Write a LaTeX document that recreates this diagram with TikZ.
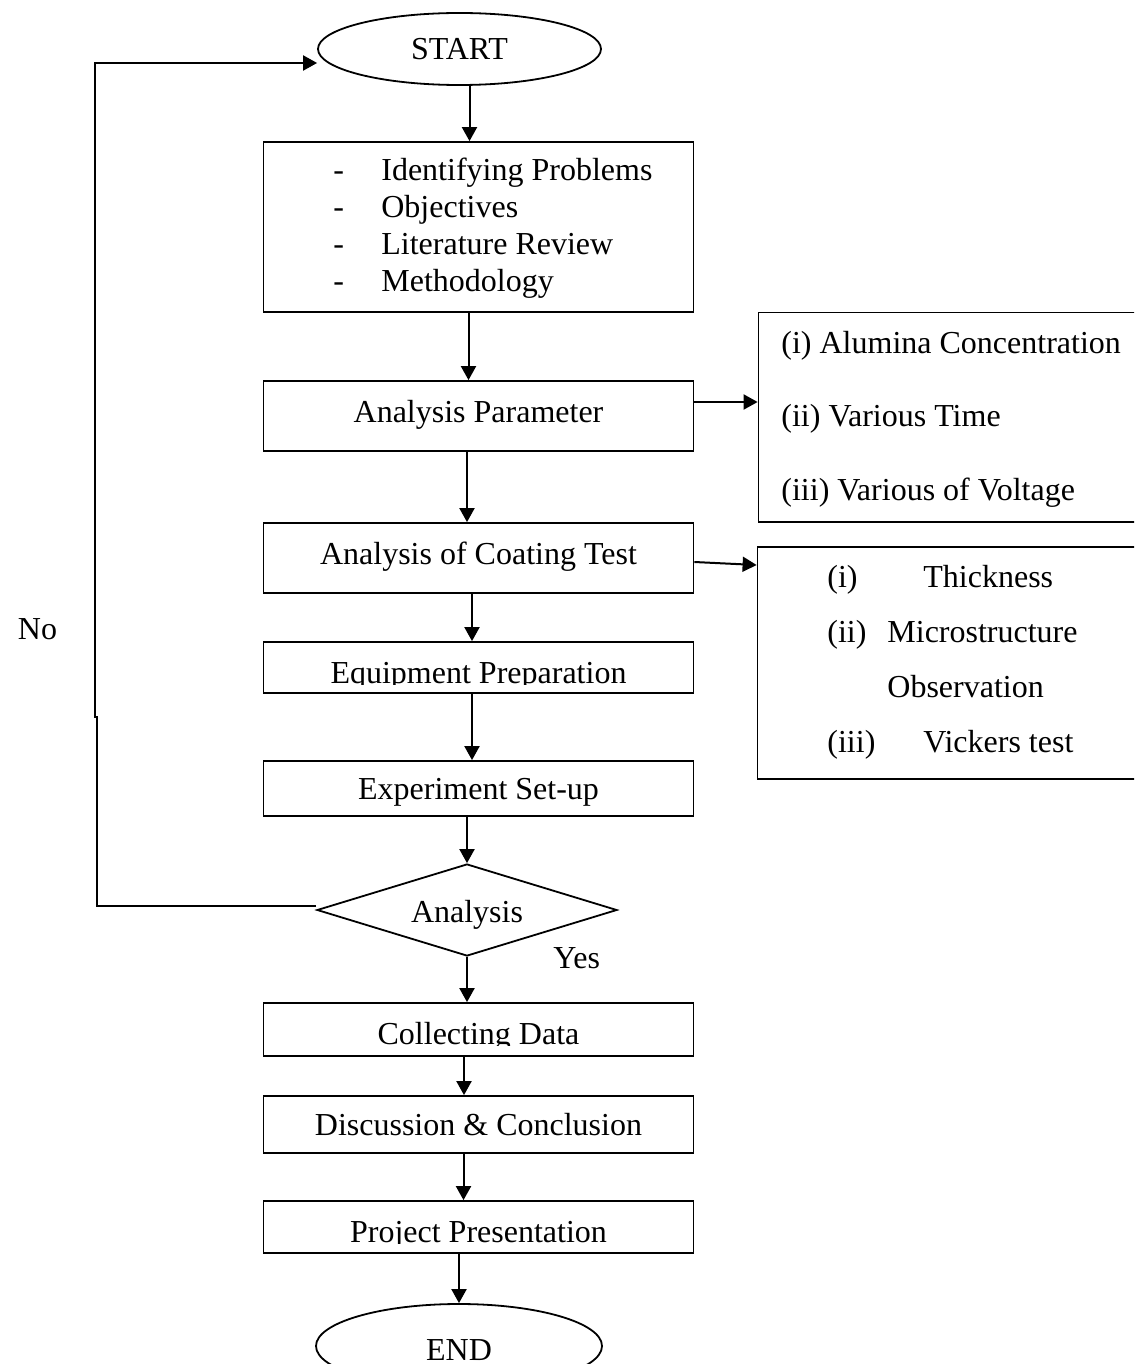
\documentclass[tikz,border=0pt]{standalone}
\usepackage{fontspec}
\setmainfont{Liberation Serif}
\usetikzlibrary{arrows.meta,shapes.geometric}
\begin{document}
\begin{tikzpicture}[x=0.5pt,y=-0.5pt,
  font=\fontsize{16}{18.5}\selectfont,
  flowbox/.style={draw, line width=0.9pt, rectangle, inner sep=0pt, minimum width=215pt, text height=11pt, text depth=0pt},
  sidebox/.style={draw, line width=0.9pt, rectangle, inner sep=0pt, minimum width=196pt},
  term/.style={draw, line width=0.9pt, ellipse, inner sep=0pt, text height=11pt, text depth=0pt},
  decide/.style={draw, line width=0.9pt, diamond, aspect=3.26, inner sep=0pt, minimum width=150pt, minimum height=46pt, text height=12pt, text depth=0pt},
  arr/.style={line width=1pt, line join=miter, -{Triangle[length=7pt,width=7.5pt]}},
  txt/.style={inner sep=0pt, anchor=base west},
  ctxt/.style={inner sep=0pt, anchor=base},
]
\clip (0,0) rectangle (1134,1364);

% main column
\node[term, minimum width=141.5pt, minimum height=36pt] (start) at (459.5,49) {START};
\node[flowbox, minimum height=85pt] (b1) at (478.5,227) {};
\node[txt] (list) at (333,181) {\begin{tabular}[t]{@{}p{24pt}@{}l@{}}-&Identifying Problems\\-&Objectives\\-&Literature Review\\-&Methodology\end{tabular}};
\node[flowbox, minimum height=35pt, text height=6pt] (b2) at (478.5,416) {Analysis Parameter};
\node[flowbox, minimum height=35pt, text height=6pt] (b3) at (478.5,558) {Analysis of Coating Test};
\node[flowbox, minimum height=25.5pt] (b4) at (478.5,667.5) {};
\begin{scope}
  \clip (263,642) rectangle (694,684);
  \node[ctxt] (t4) at (478.5,683) {Equipment Preparation};
\end{scope}
\node[flowbox, minimum height=27.5pt] (b5) at (478.5,788.5) {Experiment Set-up};
\node[decide] (dia) at (467,910) {Analysis};
\node[flowbox, minimum height=26.5pt] (b6) at (478.5,1029.5) {};
\begin{scope}
  \clip (263,1003) rectangle (694,1045);
  \node[ctxt] (t6) at (478.5,1044) {Collecting Data};
\end{scope}
\node[flowbox, minimum height=28.5pt] (b7) at (478.5,1124.5) {Discussion \& Conclusion};
\node[flowbox, minimum height=26pt] (b8) at (478.5,1227) {};
\begin{scope}
  \clip (263,1201) rectangle (694,1243);
  \node[ctxt] (t8) at (478.5,1242) {Project Presentation};
\end{scope}
\node[term, minimum width=143pt, minimum height=42pt, text height=14pt] (end) at (459,1346) {END};

% side boxes
\node[sidebox, minimum height=104.75pt] (r1) at (954.5,417.25) {};
\node[txt] (r1a) at (781,353) {(i) Alumina Concentration};
\node[txt] (r1b) at (781,426) {(ii) Various Time};
\node[txt] (r1c) at (781,500) {(iii) Various of Voltage};
\node[sidebox, minimum height=116pt] (r2) at (953.5,663) {};
\node[txt] (r2a) at (827,587) {(i)};
\node[txt] (r2b) at (923,587) {Thickness};
\node[txt] (r2c) at (827,642) {(ii)};
\node[txt] (r2d) at (887,642) {Microstructure};
\node[txt] (r2e) at (887,697) {Observation};
\node[txt] (r2f) at (827,752) {(iii)};
\node[txt] (r2g) at (923,752) {Vickers test};

% labels
\node[ctxt] (no) at (37.5,639) {No};
\node[txt] (yes) at (553,968) {Yes};

% connectors
\draw[arr] ([xshift=5pt]start.south) -- ([xshift=5pt]start.south |- b1.north);
\draw[arr] ([xshift=-5pt]b1.south) -- ([xshift=-5pt]b1.south |- b2.north);
\draw[arr] ([xshift=-5.75pt]b2.south) -- ([xshift=-5.75pt]b2.south |- b3.north);
\draw[arr] ([xshift=-3.25pt]b3.south) -- ([xshift=-3.25pt]b3.south |- b4.north);
\draw[arr] ([xshift=-3.25pt]b4.south) -- ([xshift=-3.25pt]b4.south |- b5.north);
\draw[arr] (b5.south -| dia.north) -- (dia.north);
\draw[arr] (dia.south) -- (dia.south |- b6.north);
\draw[arr] ([xshift=-7.25pt]b6.south) -- ([xshift=-7.25pt]b6.south |- b7.north);
\draw[arr] ([xshift=-7.5pt]b7.south) -- ([xshift=-7.5pt]b7.south |- b8.north);
\draw[arr] (b8.south -| end.north) -- (end.north);
\draw[arr] ([yshift=7pt]b2.east) -- ([yshift=7pt]b2.east -| r1.west);
\draw[arr] ([yshift=-2pt]b3.east) -- ([yshift=-3.5pt]b3.east -| r2.west);

% "No" loop back to START
\coordinate (lp1) at (97,906);
\coordinate (lp2) at (97,717);
\coordinate (lp3) at (95,717);
\coordinate (lp4) at (95,63);
\draw[arr] ([yshift=2pt]dia.west) -- (lp1) -- (lp2) -- (lp3) -- (lp4) -- (lp4 -| start.west);
\end{tikzpicture}
\end{document}
